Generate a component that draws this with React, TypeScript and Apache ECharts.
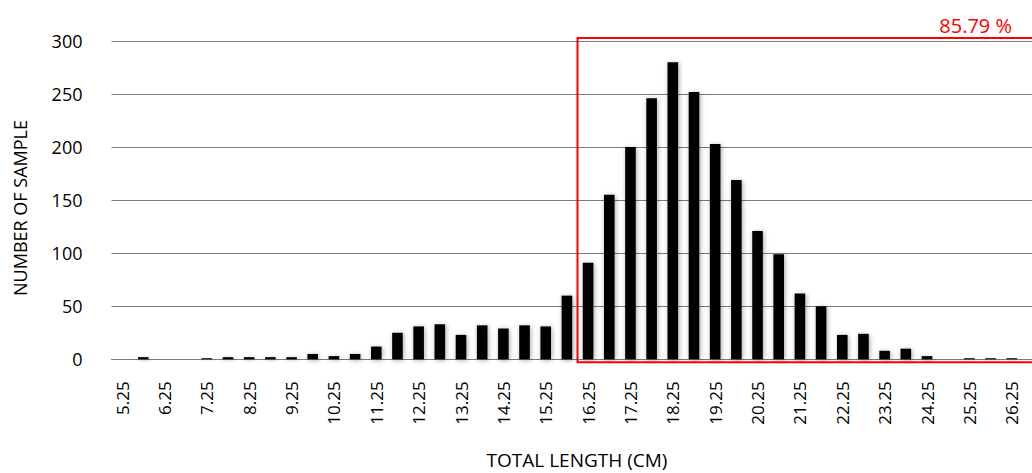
import React, { useEffect, useRef } from "react";
import * as echarts from "echarts";

const categories: string[] = [
  "5.25", "5.75", "6.25", "6.75", "7.25", "7.75", "8.25", "8.75", "9.25", "9.75",
  "10.25", "10.75", "11.25", "11.75", "12.25", "12.75", "13.25", "13.75", "14.25", "14.75",
  "15.25", "15.75", "16.25", "16.75", "17.25", "17.75", "18.25", "18.75", "19.25", "19.75",
  "20.25", "20.75", "21.25", "21.75", "22.25", "22.75", "23.25", "23.75", "24.25", "24.75",
  "25.25", "25.75", "26.25", "26.75",
];

const sampleCounts: number[] = [
  0, 2, 0, 0, 1, 2, 2, 2, 2, 5,
  3, 5, 12, 25, 31, 33, 23, 32, 29, 32,
  31, 60, 91, 155, 200, 246, 280, 252, 203, 169,
  121, 99, 62, 50, 23, 24, 8, 10, 3, 0,
  1, 1, 1, 0,
];

const yTicks = { min: 0, max: 300, interval: 50 };
const highlightStart = "16.25";
const highlightLabel = "85.79 %";
const xTitle = "TOTAL LENGTH (CM)";
const yTitle = "NUMBER OF SAMPLE";

const FONT = "'Open Sans', 'DejaVu Sans', sans-serif";

export default function App() {
  const ref = useRef<HTMLDivElement>(null);

  useEffect(() => {
    document.body.style.margin = "0";
    const chart = echarts.init(ref.current!, undefined, { renderer: "svg" });
    const option: any = {
      animation: false,
      backgroundColor: "#ffffff",
      grid: { left: 111.5, top: 41, width: 932, height: 318.3, containLabel: false },
      xAxis: {
        type: "category",
        data: categories,
        boundaryGap: true,
        axisLine: { show: true, lineStyle: { color: "#7a7a7a", width: 1 } },
        axisTick: { show: false },
        axisLabel: {
          interval: 1,
          rotate: 90,
          margin: 22,
          color: "#000",
          fontSize: 17,
          fontFamily: FONT,
        },
        splitLine: { show: false },
      },
      yAxis: {
        type: "value",
        min: yTicks.min,
        max: yTicks.max,
        interval: yTicks.interval,
        axisLine: { show: false },
        axisTick: { show: false },
        axisLabel: { margin: 29, color: "#000", fontSize: 18, fontFamily: FONT },
        splitLine: { show: true, lineStyle: { color: "#7a7a7a", width: 1 } },
      },
      series: [
        {
          type: "bar",
          data: sampleCounts,
          barWidth: "50%",
          itemStyle: {
            color: "#000",
            shadowBlur: 5,
            shadowColor: "rgba(0,0,0,0.35)",
            shadowOffsetX: 1,
            shadowOffsetY: 1,
          },
        },
      ],
    };
    chart.setOption(option);

    const idx = categories.indexOf(highlightStart);
    const c0 = chart.convertToPixel({ xAxisIndex: 0 }, categories[idx]) as number;
    const c1 = chart.convertToPixel({ xAxisIndex: 0 }, categories[idx + 1]) as number;
    const bw = c1 - c0;
    const left = c0 - bw / 2;
    const yTop = (chart.convertToPixel({ yAxisIndex: 0 }, yTicks.max) as number) - 3;
    const yBot = (chart.convertToPixel({ yAxisIndex: 0 }, 0) as number) + 3;

    chart.setOption({
      graphic: [
        {
          type: "rect",
          shape: { x: left, y: yTop, width: 1070 - left, height: yBot - yTop },
          style: { fill: "none", stroke: "#ff0000", lineWidth: 2 },
          z: 100,
        },
        {
          type: "text",
          x: 1012,
          y: 25,
          style: {
            text: highlightLabel,
            fill: "#ff0000",
            font: `20px ${FONT}`,
            align: "right",
            verticalAlign: "middle",
          },
          z: 100,
        },
        {
          type: "text",
          x: 577,
          y: 460,
          style: {
            text: xTitle,
            fill: "#000",
            font: `19px ${FONT}`,
            align: "center",
            verticalAlign: "middle",
          },
        },
        {
          type: "text",
          x: 19.5,
          y: 208,
          rotation: Math.PI / 2,
          style: {
            text: yTitle,
            fill: "#000",
            font: `18px ${FONT}`,
            align: "center",
            verticalAlign: "middle",
          },
        },
      ],
    });

    return () => chart.dispose();
  }, []);

  return (
    <div style={{ position: "fixed", left: 0, top: 0, width: 1032, height: 473, overflow: "hidden" }}>
      <div ref={ref} style={{ width: 1080, height: 473 }} />
    </div>
  );
}
